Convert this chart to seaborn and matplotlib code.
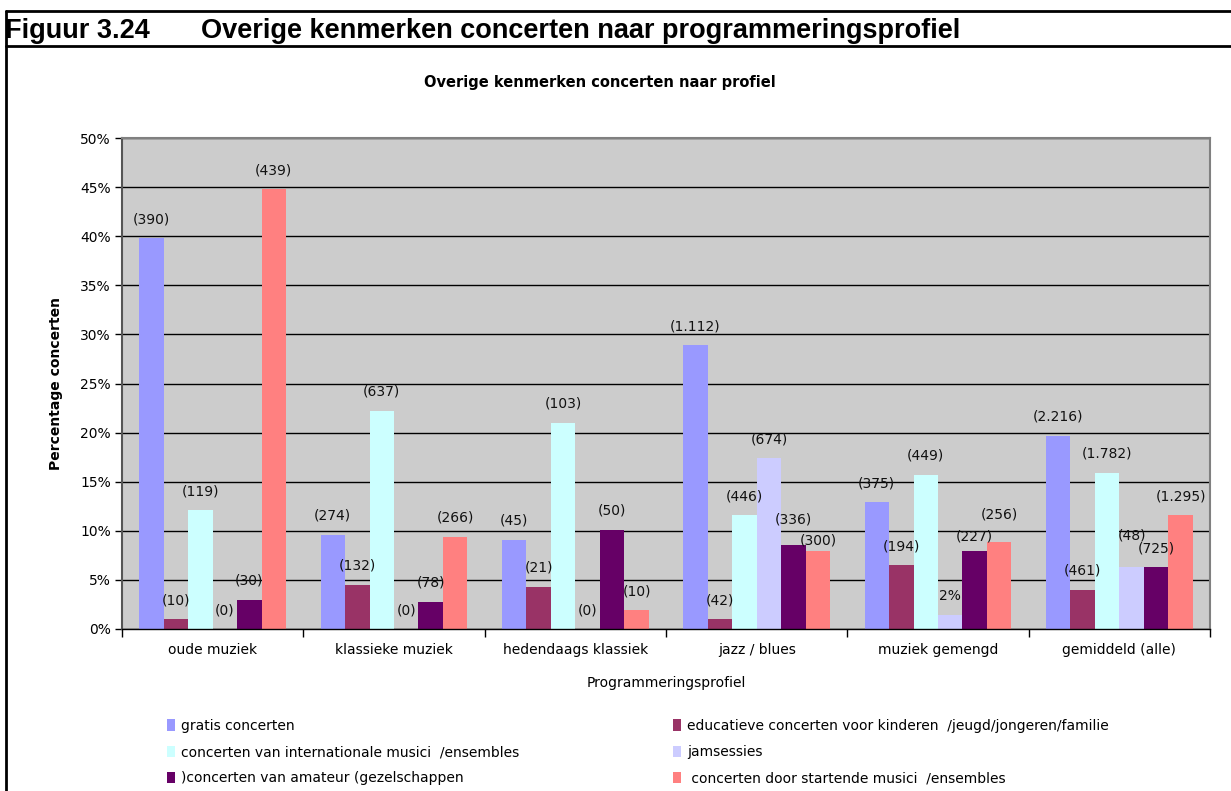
import matplotlib
matplotlib.use('Agg')
import matplotlib.pyplot as plt
import pandas as pd
import seaborn as sns
from matplotlib.lines import Line2D
from matplotlib.patches import Patch
from matplotlib.ticker import MultipleLocator, FixedLocator, PercentFormatter

# data (percentages, counts shown as labels)
profielen = ['oude muziek', 'klassieke muziek', 'hedendaags klassiek',
             'jazz / blues', 'muziek gemengd', 'gemiddeld (alle)']
kenmerken = ['gratis concerten',
             'educatieve concerten voor kinderen  /jeugd/jongeren/familie',
             'concerten van internationale musici  /ensembles',
             'jamsessies',
             ')concerten van amateur (gezelschappen',
             ' concerten door startende musici  /ensembles']

gratis = [39.8, 9.6, 9.1, 28.9, 12.9, 19.7]
educatief = [1.0, 4.5, 4.3, 1.0, 6.5, 4.0]
internationaal = [12.1, 22.2, 21.0, 11.6, 15.7, 15.9]
jamsessies = [0.0, 0.0, 0.0, 17.4, 1.4, 6.3]
amateur = [3.0, 2.8, 10.1, 8.6, 7.9, 6.3]
startend = [44.8, 9.4, 1.9, 7.9, 8.9, 11.6]

lbl_gratis = ['(390)', '(274)', '(45)', '(1.112)', '(375)', '(2.216)']
lbl_educatief = ['(10)', '(132)', '(21)', '(42)', '(194)', '(461)']
lbl_internationaal = ['(119)', '(637)', '(103)', '(446)', '(449)', '(1.782)']
lbl_jamsessies = ['(0)', '(0)', '(0)', '(674)', '2%', '(48)']
lbl_amateur = ['(30)', '(78)', '(50)', '(336)', '(227)', '(725)']
lbl_startend = ['(439)', '(266)', '(10)', '(300)', '(256)', '(1.295)']

kleuren = ['#9999FF', '#993366', '#CCFFFF', '#CCCCFF', '#660066', '#FF8080']

series = [gratis, educatief, internationaal, jamsessies, amateur, startend]
labels = [lbl_gratis, lbl_educatief, lbl_internationaal, lbl_jamsessies,
          lbl_amateur, lbl_startend]

rows = []
for k, vals in zip(kenmerken, series):
    for p, v in zip(profielen, vals):
        rows.append({'Profiel': p, 'Kenmerk': k, 'Percentage': v})
df = pd.DataFrame(rows)

sns.set_style('white')
plt.rcParams['font.family'] = ['DejaVu Sans']
plt.rcParams['text.color'] = 'black'
plt.rcParams['axes.labelcolor'] = 'black'
plt.rcParams['xtick.color'] = 'black'
plt.rcParams['ytick.color'] = 'black'

fig = plt.figure(figsize=(12.31, 7.91), dpi=100)
W, H = 1231, 791
ax = fig.add_axes([122 / W, (H - 629) / H, (1210 - 122) / W, (629 - 138) / H])

sns.barplot(data=df, x='Profiel', y='Percentage', hue='Kenmerk',
            order=profielen, hue_order=kenmerken, palette=kleuren,
            width=0.81, gap=0, saturation=1, linewidth=0, legend=False, ax=ax)

ax.set_facecolor('#CCCCCC')
ax.set_ylim(0, 50)
ax.set_xlim(-0.5, len(profielen) - 0.5)
ax.yaxis.set_major_locator(MultipleLocator(5))
ax.yaxis.set_major_formatter(PercentFormatter(decimals=0))
ax.grid(axis='y', color='black', linewidth=1)
ax.set_axisbelow(True)
for s in ['top', 'right']:
    ax.spines[s].set_color('#808080')
    ax.spines[s].set_linewidth(1.5)
ax.spines['left'].set_color('#555555')
ax.spines['left'].set_linewidth(1.5)
ax.spines['bottom'].set_color('black')
ax.spines['bottom'].set_linewidth(1)

ax.tick_params(axis='y', direction='out', length=5, width=1, color='black',
               labelsize=10, pad=3, left=True)
ax.xaxis.set_minor_locator(FixedLocator([i - 0.5 for i in range(len(profielen) + 1)]))
ax.tick_params(axis='x', which='major', length=0, labelsize=10, pad=10)
ax.tick_params(axis='x', which='minor', length=6, width=1, color='black',
               bottom=True, direction='out')

ax.set_xlabel('Programmeringsprofiel', fontsize=10, labelpad=14)
ax.set_ylabel('Percentage concerten', fontsize=10, fontweight='bold', labelpad=12)

# count labels above the bars; a few are lifted/lowered as in the original
extra = {(5, 3): 13, (3, 4): 6, (3, 5): -8, (4, 5): 8, (4, 4): -4}
for j, (cont, lbls) in enumerate(zip(ax.containers, labels)):
    for i, (bar, txt) in enumerate(zip(cont, lbls)):
        x = bar.get_x() + bar.get_width() / 2
        ax.annotate(txt, (x, bar.get_height()), xytext=(0, 12 + extra.get((i, j), 0)),
                    textcoords='offset pixels', ha='center', va='bottom',
                    fontsize=10, color='#111111')

# chart title
fig.text(600 / W, 1 - 83 / H, 'Overige kenmerken concerten naar profiel',
         ha='center', va='center', fontsize=10.5, fontweight='bold')

# figure caption and frame
cap_font = ['Liberation Sans', 'DejaVu Sans']
fig.text(5 / W, 1 - 31 / H, 'Figuur 3.24', ha='left', va='center',
         fontsize=19.5, fontweight='bold', family=cap_font)
fig.text(201 / W, 1 - 31 / H, 'Overige kenmerken concerten naar programmeringsprofiel',
         ha='left', va='center', fontsize=19.5, fontweight='bold', family=cap_font)
fig.add_artist(Line2D([6 / W, 1], [1 - 11 / H, 1 - 11 / H], color='black', lw=2))
fig.add_artist(Line2D([6 / W, 1], [1 - 46 / H, 1 - 46 / H], color='black', lw=2))
fig.add_artist(Line2D([6 / W, 6 / W], [0, 1 - 11 / H], color='black', lw=2))

# legend in two columns
handles = [Patch(facecolor=c, edgecolor='none') for c in kleuren]
col1 = [0, 2, 4]
col2 = [1, 3, 5]
for idx, xpos in [(col1, 160), (col2, 666)]:
    fig.legend([handles[i] for i in idx], [kenmerken[i] for i in idx],
               loc='upper left', bbox_to_anchor=(xpos / W, 1 - 712 / H),
               frameon=False, fontsize=10, handlelength=0.6, handleheight=0.9,
               handletextpad=0.4, labelspacing=0.88, borderpad=0)

fig.savefig('out.png', dpi=100)
print('saved out.png')
